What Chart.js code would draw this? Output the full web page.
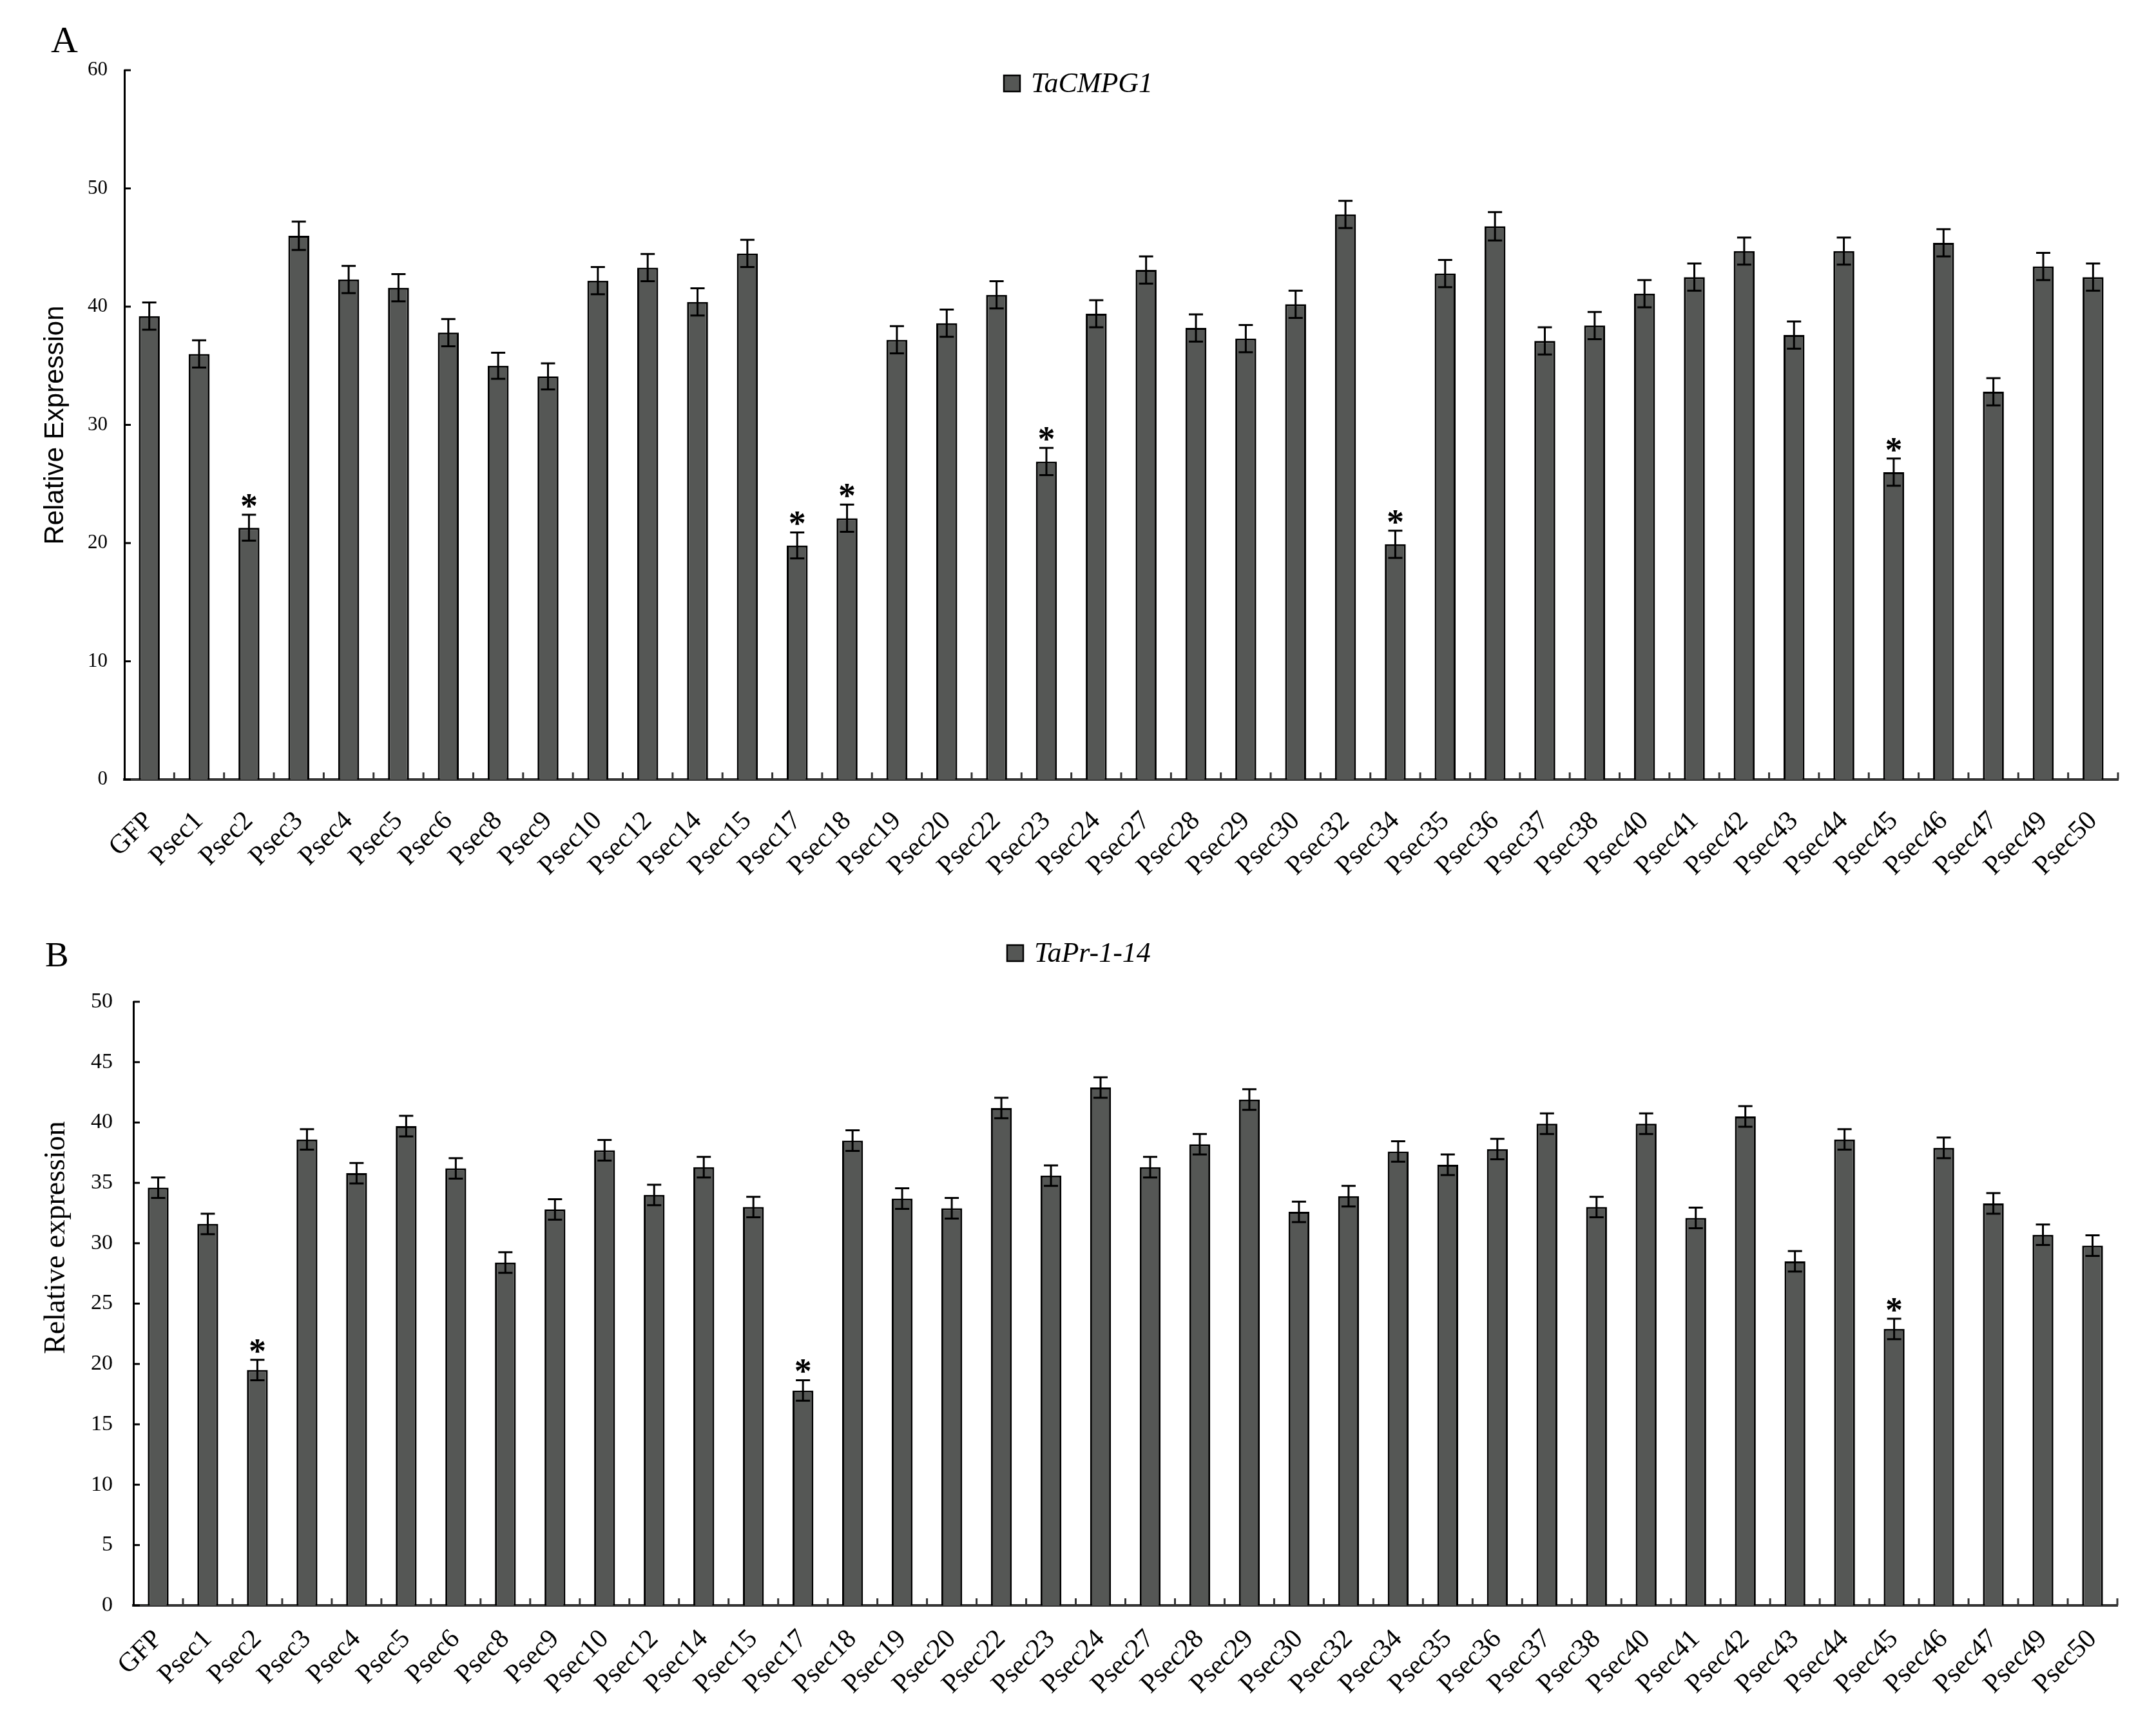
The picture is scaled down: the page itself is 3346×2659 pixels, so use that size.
<!DOCTYPE html>
<html>
<head>
<meta charset="utf-8">
<script src="https://cdn.jsdelivr.net/npm/chart.js@4.4.0/dist/chart.umd.min.js"></script>
<style>
  html, body { margin: 0; padding: 0; background: #fff; }
  #wrap { position: relative; width: 3346px; height: 2659px; }
  canvas { position: absolute; left: 0; }
</style>
</head>
<body>
<div id="wrap">
  <canvas id="chartA" width="3346" height="1400" style="top:0px"></canvas>
  <canvas id="chartB" width="3346" height="1259" style="top:1400px"></canvas>
</div>
<script>
// categories shared by both panels
const categories = ['GFP', 'Psec1', 'Psec2', 'Psec3', 'Psec4', 'Psec5', 'Psec6', 'Psec8', 'Psec9', 'Psec10',
  'Psec12', 'Psec14', 'Psec15', 'Psec17', 'Psec18', 'Psec19', 'Psec20', 'Psec22', 'Psec23', 'Psec24',
  'Psec27', 'Psec28', 'Psec29', 'Psec30', 'Psec32', 'Psec34', 'Psec35', 'Psec36', 'Psec37', 'Psec38',
  'Psec40', 'Psec41', 'Psec42', 'Psec43', 'Psec44', 'Psec45', 'Psec46', 'Psec47', 'Psec49', 'Psec50'];

// panel A - TaCMPG1
const cmpgValues = [39.2, 36.0, 21.3, 46.0, 42.3, 41.6, 37.8, 35.0, 34.1, 42.2,
  43.3, 40.4, 44.5, 19.8, 22.1, 37.2, 38.6, 41.0, 26.9, 39.4,
  43.1, 38.2, 37.3, 40.2, 47.8, 19.9, 42.8, 46.8, 37.1, 38.4,
  41.1, 42.5, 44.7, 37.6, 44.7, 26.0, 45.4, 32.8, 43.4, 42.5];
const cmpgErrors = [1.15, 1.15, 1.1, 1.2, 1.15, 1.15, 1.15, 1.1, 1.1, 1.15,
  1.15, 1.15, 1.15, 1.1, 1.15, 1.15, 1.15, 1.15, 1.15, 1.15,
  1.15, 1.15, 1.15, 1.15, 1.15, 1.15, 1.15, 1.2, 1.15, 1.15,
  1.15, 1.15, 1.15, 1.15, 1.15, 1.15, 1.15, 1.15, 1.15, 1.15];
const cmpgSignificant = ['Psec2', 'Psec17', 'Psec18', 'Psec23', 'Psec34', 'Psec45'];

// panel B - TaPr-1-14
const prValues = [34.6, 31.6, 19.5, 38.6, 35.8, 39.7, 36.2, 28.4, 32.8, 37.7,
  34.0, 36.3, 33.0, 17.8, 38.5, 33.7, 32.9, 41.2, 35.6, 42.9,
  36.3, 38.2, 41.9, 32.6, 33.9, 37.6, 36.5, 37.8, 39.9, 33.0,
  39.9, 32.1, 40.5, 28.5, 38.6, 22.9, 37.9, 33.3, 30.7, 29.8];
const prErrors = [0.85, 0.85, 0.85, 0.85, 0.85, 0.85, 0.85, 0.85, 0.85, 0.85,
  0.85, 0.85, 0.85, 0.85, 0.85, 0.85, 0.85, 0.85, 0.85, 0.85,
  0.85, 0.85, 0.85, 0.85, 0.85, 0.85, 0.85, 0.85, 0.85, 0.85,
  0.85, 0.85, 0.85, 0.85, 0.85, 0.85, 0.85, 0.85, 0.85, 0.85];
const prSignificant = ['Psec2', 'Psec17', 'Psec45'];

const SERIF = "'Liberation Serif', 'DejaVu Serif', serif";
const SANS = "'Liberation Sans', Arial, sans-serif";
const BAR_FILL = '#555755';

// error bars, asterisks, inner ticks, legend, axis title and panel letter
const decorations = {
  id: 'decorations',
  afterDatasetsDraw(chart, args, opts) {
    const ctx = chart.ctx;
    const meta = chart.getDatasetMeta(0);
    const y = chart.scales.y;
    const values = chart.data.datasets[0].data;
    ctx.save();
    ctx.strokeStyle = '#000';
    ctx.lineWidth = 3;
    meta.data.forEach((bar, i) => {
      const top = y.getPixelForValue(values[i] + opts.errors[i]);
      const bot = y.getPixelForValue(values[i] - opts.errors[i]);
      ctx.beginPath();
      ctx.moveTo(bar.x, top); ctx.lineTo(bar.x, bot);
      ctx.moveTo(bar.x - 11, top); ctx.lineTo(bar.x + 11, top);
      ctx.moveTo(bar.x - 11, bot); ctx.lineTo(bar.x + 11, bot);
      ctx.stroke();
      if (opts.significant.includes(chart.data.labels[i])) {
        ctx.fillStyle = '#000';
        ctx.font = 'bold 54px ' + SERIF;
        ctx.textAlign = 'center';
        ctx.textBaseline = 'alphabetic';
        ctx.fillText('*', bar.x, top + 4);
      }
    });
    ctx.restore();
  },
  afterDraw(chart, args, opts) {
    const ctx = chart.ctx;
    const area = chart.chartArea;
    const x = chart.scales.x;
    const y = chart.scales.y;
    ctx.save();
    // inward ticks on the y axis
    ctx.strokeStyle = '#000';
    ctx.lineWidth = 3;
    y.ticks.forEach(t => {
      const py = y.getPixelForValue(t.value);
      ctx.beginPath();
      ctx.moveTo(area.left, py); ctx.lineTo(area.left + 10, py);
      ctx.stroke();
    });
    // inward ticks between categories
    ctx.strokeStyle = '#333';
    for (let i = 1; i <= chart.data.labels.length; i++) {
      const px = x.getPixelForValue(i - 0.5);
      ctx.beginPath();
      ctx.moveTo(px, area.bottom); ctx.lineTo(px, area.bottom - 11);
      ctx.stroke();
    }
    // legend
    const lg = opts.legend;
    ctx.fillStyle = BAR_FILL;
    ctx.fillRect(lg.x, lg.y, 25, 25);
    ctx.lineWidth = 2.5;
    ctx.strokeStyle = '#000';
    ctx.strokeRect(lg.x, lg.y, 25, 25);
    ctx.fillStyle = '#000';
    ctx.font = 'italic 44px ' + SERIF;
    ctx.textAlign = 'left';
    ctx.textBaseline = 'middle';
    ctx.fillText(chart.data.datasets[0].label, lg.x + 42, lg.y + 14);
    // y axis title
    const tt = opts.yTitle;
    ctx.save();
    ctx.translate(tt.x, tt.y);
    ctx.rotate(-Math.PI / 2);
    ctx.font = tt.font;
    ctx.textAlign = 'center';
    ctx.textBaseline = 'middle';
    ctx.fillText(tt.text, 0, 0);
    ctx.restore();
    // panel letter
    ctx.font = opts.letter.font;
    ctx.textAlign = 'left';
    ctx.textBaseline = 'alphabetic';
    ctx.fillText(opts.letter.text, opts.letter.x, opts.letter.y);
    ctx.restore();
  }
};

function makeChart(id, cfg) {
  return new Chart(document.getElementById(id), {
    type: 'bar',
    data: {
      labels: categories,
      datasets: [{
        label: cfg.label,
        data: cfg.values,
        backgroundColor: BAR_FILL,
        borderColor: '#000',
        borderWidth: 3,
        barPercentage: 0.42,
        categoryPercentage: 1.0
      }]
    },
    options: {
      responsive: false,
      animation: false,
      devicePixelRatio: 1,
      layout: { padding: { left: 0, right: cfg.padRight, top: cfg.padTop, bottom: 0 } },
      plugins: {
        legend: { display: false },
        tooltip: { enabled: false },
        decorations: {
          errors: cfg.errors,
          significant: cfg.significant,
          legend: cfg.legend,
          yTitle: cfg.yTitle,
          letter: cfg.letter
        }
      },
      scales: {
        x: {
          grid: { display: false, drawTicks: false },
          border: { display: true, color: '#333', width: 4 },
          ticks: {
            autoSkip: false, minRotation: 45, maxRotation: 45, padding: cfg.xPad,
            color: '#000', font: { family: SERIF, size: 42 }
          },
          afterFit(scale) { scale.height = cfg.xHeight; }
        },
        y: {
          min: 0, max: cfg.yMax,
          grid: { display: false, drawTicks: false },
          border: { display: true, color: '#000', width: 3 },
          ticks: {
            stepSize: cfg.yStep, padding: cfg.tickPad,
            color: '#000', font: { family: SERIF, size: cfg.tickSize }
          },
          afterFit(scale) { scale.width = cfg.yWidth; }
        }
      }
    },
    plugins: [decorations]
  });
}

makeChart('chartA', {
  label: 'TaCMPG1',
  values: cmpgValues, errors: cmpgErrors, significant: cmpgSignificant,
  yMax: 60, yStep: 10, tickSize: 31, tickPad: 26, xPad: 40,
  yWidth: 193, padRight: 59, padTop: 109, xHeight: 190,
  legend: { x: 1558, y: 117 },
  yTitle: { text: 'Relative Expression', x: 86, y: 660, font: '42px ' + SANS },
  letter: { text: 'A', x: 79, y: 81, font: '58px ' + SERIF }
});

makeChart('chartB', {
  label: 'TaPr-1-14',
  values: prValues, errors: prErrors, significant: prSignificant,
  yMax: 50, yStep: 5, tickSize: 34, tickPad: 32, xPad: 28,
  yWidth: 207, padRight: 60, padTop: 155, xHeight: 167,
  legend: { x: 1563, y: 67 },
  yTitle: { text: 'Relative expression', x: 88, y: 521, font: '46px ' + SERIF },
  letter: { text: 'B', x: 70, y: 100, font: '55px ' + SERIF }
});
</script>
</body>
</html>
